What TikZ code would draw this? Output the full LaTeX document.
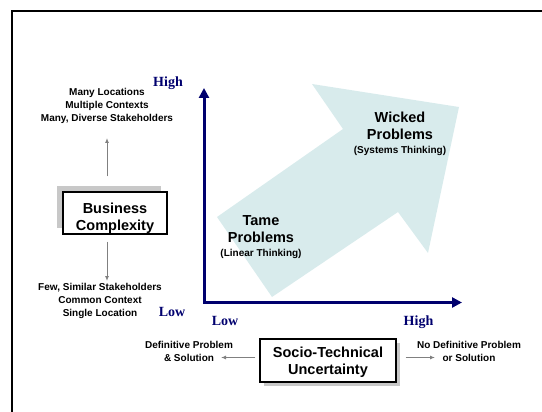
\documentclass[tikz,border=0pt]{standalone}
\usepackage{fontspec}
\setmainfont{Liberation Serif}
\setsansfont{Liberation Sans}
\usetikzlibrary{arrows.meta,shadows}
\definecolor{axisnavy}{RGB}{0,0,110}
\definecolor{palecyan}{RGB}{216,235,236}
\definecolor{shadowgray}{RGB}{200,200,200}
\definecolor{conngray}{RGB}{128,128,128}

\begin{document}
\begin{tikzpicture}[x=1pt,y=-1pt]
\tikzset{Box/.style={draw=black,line width=1.2pt,fill=white,align=center,inner sep=0pt,font=\sffamily\bfseries\fontsize{14.5}{16.5}\selectfont}}
\tikzset{Big/.style={align=center,inner sep=0pt,font=\sffamily\bfseries\fontsize{14.5}{17}\selectfont}}
\tikzset{Note/.style={align=center,inner sep=0pt,font=\sffamily\bfseries\fontsize{10}{13}\selectfont}}
\tikzset{Lab/.style={text=axisnavy,inner sep=0pt,font=\rmfamily\bfseries\fontsize{14}{16}\selectfont}}
\tikzset{Conn/.style={draw=conngray,line width=1pt,-{Latex[length=5pt,width=4pt]}}}
\tikzset{Axis/.style={draw=axisnavy,line width=3pt,line join=miter,{Triangle[length=10pt,width=10pt]}-{Triangle[length=10pt,width=10pt]}}}

  \useasboundingbox (0,0) rectangle (542,412);
  \draw[line width=2pt] (12,412) -- (12,11) -- (542,11);

  % the wide arrow
  \fill[palecyan] (217,217) -- (343,129) -- (312,84) -- (459,107)
    -- (428,253) -- (398,212) -- (272,297) -- cycle;

  % axes
  \coordinate (ytop) at (204,88);
  \coordinate (origin) at (204,302.5);
  \coordinate (xend) at (462,302.5);
  \draw[Axis] (ytop) -- (origin) -- (xend);

  \node[Lab] (yhigh) at (168,83)  {High};
  \node[Lab] (ylow)  at (172,312) {Low};
  \node[Lab] (xlow)  at (225,320.7) {Low};
  \node[Lab] (xhigh) at (418.5,321.7) {High};

  \node[Big] (tame)   at (261,237.3) {Tame\\Problems\\[-3pt]{\fontsize{10}{13}\selectfont (Linear Thinking)}};
  \node[Big] (wicked) at (400,134)   {Wicked\\Problems\\[-3pt]{\fontsize{10}{13}\selectfont (Systems Thinking)}};

  % business complexity
  \node[Box,minimum width=104pt,minimum height=42pt,
    drop shadow={shadow xshift=-6pt,shadow yshift=6pt,fill=shadowgray,opacity=1}]
    (bc) at (115,213) {\rule{0pt}{21.5pt}Business\\Complexity};
  \node[Note] (many) at (107,105.5) {Many Locations\\Multiple Contexts\\Many, Diverse Stakeholders};
  \node[Note] (few)  at (100,301.3) {Few, Similar Stakeholders\\Common Context\\Single Location};
  \coordinate (htip) at (107,138);
  \coordinate (ltip) at (107,281);
  \draw[Conn,shorten <=15pt] (htip |- bc.north) -- (htip);
  \draw[Conn,shorten <=7pt]  (ltip |- bc.south) -- (ltip);

  % socio-technical uncertainty
  \node[Box,minimum width=136pt,minimum height=43pt,
    drop shadow={shadow xshift=4pt,shadow yshift=-4pt,fill=shadowgray,opacity=1}]
    (st) at (328,360.5) {\rule{0pt}{14.5pt}Socio-Technical\\Uncertainty};
  \node[Note] (defin)   at (189,351.5) {Definitive Problem\\\& Solution};
  \node[Note] (nodefin) at (469,351.5) {No Definitive Problem\\or Solution};
  \coordinate (dtip) at (221,357.5);
  \coordinate (ntip) at (435,357.5);
  \draw[Conn,shorten <=4pt] (st.west |- dtip) -- (dtip);
  \draw[Conn,shorten <=9pt] (st.east |- ntip) -- (ntip);
\end{tikzpicture}
\end{document}
